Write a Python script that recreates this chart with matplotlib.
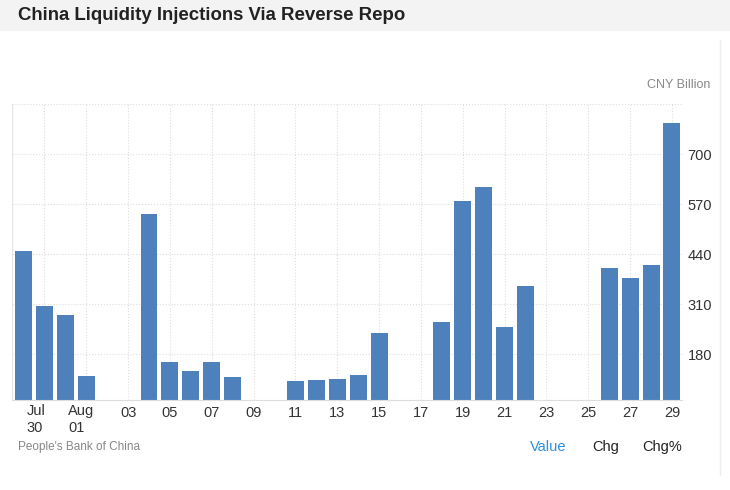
import matplotlib
matplotlib.use("Agg")
import matplotlib.pyplot as plt
import matplotlib.transforms as mtransforms
import numpy as np

plt.rcParams['font.family'] = ['Liberation Sans', 'DejaVu Sans']

days = ['Jul 29', 'Jul 30', 'Jul 31', 'Aug 01', 'Aug 02', 'Aug 03', 'Aug 04', 'Aug 05',
        'Aug 06', 'Aug 07', 'Aug 08', 'Aug 09', 'Aug 10', 'Aug 11', 'Aug 12', 'Aug 13',
        'Aug 14', 'Aug 15', 'Aug 16', 'Aug 17', 'Aug 18', 'Aug 19', 'Aug 20', 'Aug 21',
        'Aug 22', 'Aug 23', 'Aug 24', 'Aug 25', 'Aug 26', 'Aug 27', 'Aug 28', 'Aug 29']
values = [447, 306, 283, 123, 0, 0, 544, 160,
          136, 160, 121, 0, 0, 110, 113, 115,
          126, 236, 0, 0, 264, 577, 614, 251,
          358, 0, 0, 0, 403, 379, 413, 781]
tick_labels = ['Jul\n30', 'Aug\n01', '03', '05', '07', '09', '11', '13', '15',
               '17', '19', '21', '23', '25', '27', '29']
yticks = [180, 310, 440, 570, 700]

fig = plt.figure(figsize=(7.3, 4.9), dpi=100)
# grey title band
fig.patches.append(plt.Rectangle((0, 1 - 30/490), 1, 30/490, transform=fig.transFigure,
                                 color='#f3f3f3', zorder=0))
fig.text(18/730, 1 - 15/490, 'China Liquidity Injections Via Reverse Repo', fontsize=13.4,
         fontweight='bold', color='#222222', va='center', ha='left')
# thin right border line
fig.add_artist(plt.Line2D([720/730, 720/730], [1 - 475/490, 1 - 40/490], transform=fig.transFigure,
                          color='#eeeeee', lw=1))

ax = fig.add_axes([12/730, 1 - 400/490, 670/730, 296/490])
x = np.arange(len(days))
ax.bar(x, values, width=0.81, color='#4e80bc', zorder=2)

ax.set_xlim(-0.55, 31.48)
ax.set_ylim(61, 830)
ticks_pos = [i for i in range(1, len(days), 2)]
ax.set_xticks(ticks_pos)
# month labels drawn by hand below (left aligned, pulled left)
shown = ['' if '\n' in t else t for t in tick_labels]
ax.set_xticklabels(shown, fontsize=10.5, color='#333333', va='top')
base = ax.get_xaxis_transform()
for pos, t in zip(ticks_pos, tick_labels):
    if '\n' in t:
        off = mtransforms.ScaledTranslation(-18/100, -4/100, fig.dpi_scale_trans)
        ax.text(pos, 0, t, transform=base + off, fontsize=10.5, color='#333333',
                ha='left', va='top', multialignment='left', linespacing=1.3)

ax.set_yticks(yticks + [830])
ax.set_yticklabels([str(v) for v in yticks] + [''], fontsize=10.5, color='#333333')
ax.yaxis.tick_right()
ax.tick_params(axis='both', length=0)
ax.tick_params(axis='y', pad=4)
ax.tick_params(axis='x', pad=4)

ax.grid(True, color='#dddddd', linestyle=':', linewidth=0.8, zorder=0)
for s in ['top', 'right', 'left']:
    ax.spines[s].set_visible(False)
ax.spines['bottom'].set_color('#dddddd')
ax.axvline(-0.55, color='#e6e6e6', lw=1, zorder=1)

fig.text(710/730, 1 - 85/490, 'CNY Billion', fontsize=9, color='#888888', ha='right', va='center')
fig.text(18/730, 1 - 447/490, "People's Bank of China", fontsize=8.5, color='#888888',
         ha='left', va='center')
fig.text(530/730, 1 - 447/490, 'Value', fontsize=10.5, color='#2f8fd8', ha='left', va='center')
fig.text(592/730, 1 - 447/490, 'Chg', fontsize=10.5, color='#222222', ha='left', va='center')
fig.text(642/730, 1 - 447/490, 'Chg%', fontsize=10.5, color='#222222', ha='left', va='center')

fig.savefig('out.png', dpi=100)
